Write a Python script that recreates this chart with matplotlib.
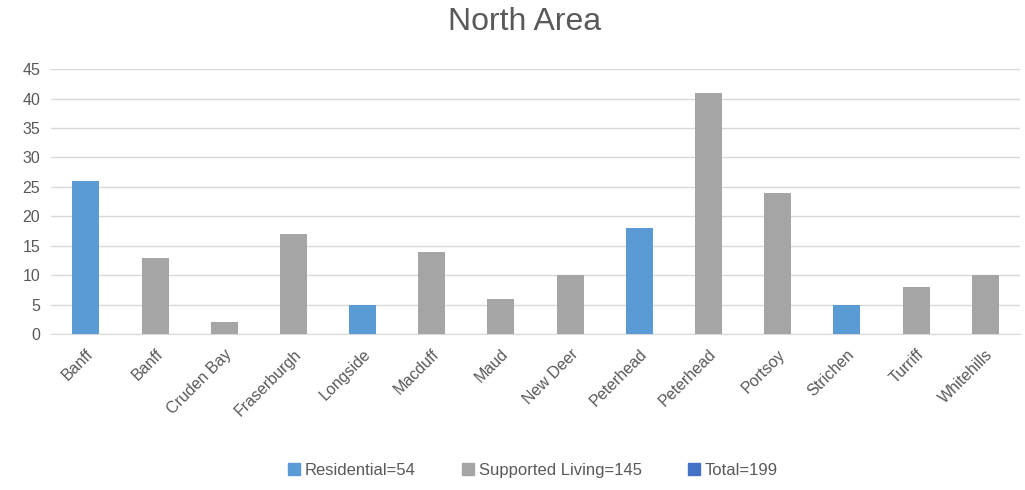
import matplotlib
matplotlib.use("Agg")
import matplotlib.pyplot as plt
from matplotlib.patches import Patch

# data
places = ["Banff", "Banff", "Cruden Bay", "Fraserburgh", "Longside", "Macduff", "Maud",
          "New Deer", "Peterhead", "Peterhead", "Portsoy", "Strichen", "Turriff", "Whitehills"]
counts = [26, 13, 2, 17, 5, 14, 6, 10, 18, 41, 24, 5, 8, 10]
kind = ["R", "S", "S", "S", "R", "S", "S", "S", "R", "S", "S", "R", "S", "S"]

blue = "#5B9BD5"
grey = "#A5A5A5"
dark_blue = "#4472C4"

plt.rcParams['font.family'] = ['Liberation Sans', 'DejaVu Sans']

fig = plt.figure(figsize=(10.25, 4.9), dpi=100)
ax = fig.add_axes([0.050, 0.318, 0.945, 0.541])

cols = [blue if k == "R" else grey for k in kind]
x = range(len(places))
ax.bar(x, counts, width=0.39, color=cols, zorder=3)

ax.set_xlim(-0.5, len(places) - 0.5)
ax.set_ylim(0, 45)
ax.set_yticks(range(0, 46, 5))
ax.set_xticks(list(x))
ax.set_xticklabels(places, rotation=45, ha="right", rotation_mode="anchor")
ax.tick_params(axis="both", length=0, colors="#595959", labelsize=11.5)
ax.tick_params(axis="x", pad=9)
ax.tick_params(axis="y", pad=8)
ax.grid(axis="y", color="#D9D9D9", linewidth=1, zorder=0)
for s in ["top", "right", "left"]:
    ax.spines[s].set_visible(False)
ax.spines["bottom"].set_color("#D9D9D9")

fig.text(0.512, 0.955, "North Area", ha="center", va="center", fontsize=23, color="#595959")

n_res = sum(c for c, k in zip(counts, kind) if k == "R")
n_sup = sum(c for c, k in zip(counts, kind) if k == "S")
handles = [Patch(color=blue, label="Residential=%d" % n_res),
           Patch(color=grey, label="Supported Living=%d" % n_sup),
           Patch(color=dark_blue, label="Total=%d" % (n_res + n_sup))]
fig.legend(handles=handles, loc="center", bbox_to_anchor=(0.52, 0.04), ncol=3,
           frameon=False, fontsize=12, handlelength=0.7, handleheight=0.7,
           handletextpad=0.3, columnspacing=2.8, labelcolor="#595959")

fig.savefig("out.png", dpi=100)
